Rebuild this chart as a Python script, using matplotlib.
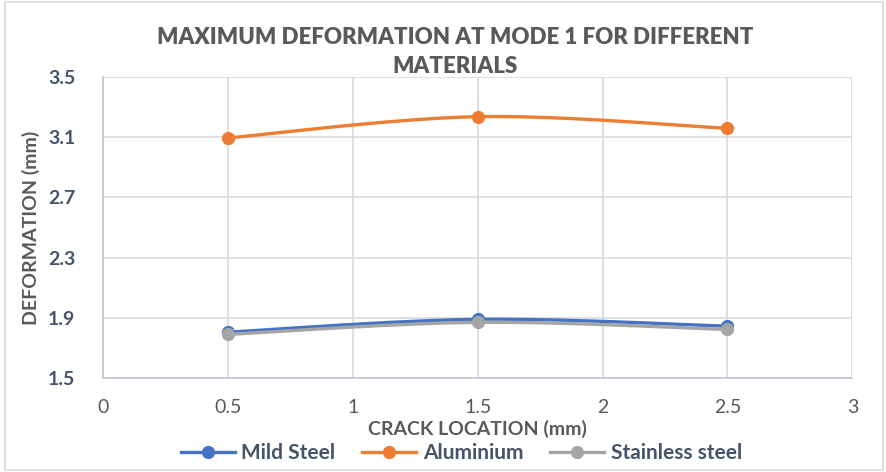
import numpy as np
import matplotlib
matplotlib.use("Agg")
import matplotlib.pyplot as plt
from matplotlib.lines import Line2D
from matplotlib.patches import Rectangle

plt.rcParams['font.family'] = ['Lato', 'DejaVu Sans']

# Crack location (mm) and max deformation (mm) per material
crack_location = [0.5, 1.5, 2.5]
mild_steel = [1.805, 1.89, 1.845]
aluminium = [3.095, 3.236, 3.159]
stainless_steel = [1.79, 1.87, 1.823]

series = [
    ("Mild Steel", mild_steel, "#4472C4"),
    ("Aluminium", aluminium, "#ED7D31"),
    ("Stainless steel", stainless_steel, "#A5A5A5"),
]


def smooth_curve(x, y, n=40):
    # Catmull-Rom style smoothing between consecutive points
    x = np.asarray(x, float)
    y = np.asarray(y, float)
    px = np.concatenate([[x[0]], x, [x[-1]]])
    py = np.concatenate([[y[0]], y, [y[-1]]])
    xs, ys = [], []
    for i in range(1, len(px) - 2):
        p0 = np.array([px[i - 1], py[i - 1]])
        p1 = np.array([px[i], py[i]])
        p2 = np.array([px[i + 1], py[i + 1]])
        p3 = np.array([px[i + 2], py[i + 2]])
        c1 = p1 + (p2 - p0) / 6
        c2 = p2 - (p3 - p1) / 6
        t = np.linspace(0, 1, n)[:, None]
        pts = ((1 - t) ** 3) * p1 + 3 * ((1 - t) ** 2) * t * c1 + 3 * (1 - t) * t ** 2 * c2 + t ** 3 * p2
        xs.extend(pts[:, 0])
        ys.extend(pts[:, 1])
    return xs, ys


fig = plt.figure(figsize=(8.87, 4.72), dpi=100)
ax = fig.add_axes([0.116, 0.199, 0.845, 0.638])

for name, vals, col in series:
    sx, sy = smooth_curve(crack_location, vals)
    ax.plot(sx, sy, color=col, lw=2.4, zorder=3)
    ax.plot(crack_location, vals, "o", color=col, ms=8.5, zorder=4)

ax.set_xlim(0, 3)
ax.set_ylim(1.5, 3.5)
ax.set_xticks(np.arange(0, 3.01, 0.5))
ax.set_xticklabels(["0", "0.5", "1", "1.5", "2", "2.5", "3"])
ax.set_yticks(np.arange(1.5, 3.51, 0.4))
ax.set_yticklabels(["1.5", "1.9", "2.3", "2.7", "3.1", "3.5"])
ax.grid(True, color="#D9D9D9", lw=1.2)
ax.set_axisbelow(True)
for s in ["top", "right"]:
    ax.spines[s].set_visible(False)
for s in ["left", "bottom"]:
    ax.spines[s].set_color("#BFC6D4")
    ax.spines[s].set_linewidth(1.2)
ax.tick_params(length=0)
ax.tick_params(axis="x", pad=15, labelsize=14, labelcolor="#595959")
ax.tick_params(axis="y", pad=20, labelsize=14, labelcolor="#44546A")
for lab in ax.get_yticklabels():
    lab.set_fontweight("bold")

ax.set_xlabel("CRACK LOCATION (mm)", fontsize=14, fontweight="bold",
              color="#595959", labelpad=3)
ax.set_ylabel("DEFORMATION (mm)", fontsize=14, fontweight="bold",
              color="#595959", labelpad=6)

fig.text(0.513, 0.89, "MAXIMUM DEFORMATION AT MODE 1 FOR DIFFERENT\nMATERIALS",
         ha="center", va="center", fontsize=16, fontweight="heavy",
         color="#595959", linespacing=1.45)

handles = [Line2D([0], [0], color=c, lw=2.4, marker="o", ms=8.5) for _, _, c in series]
leg = fig.legend(handles, [n for n, _, _ in series], loc="center",
                 bbox_to_anchor=(0.52, 0.04), ncol=3, frameon=False,
                 fontsize=15, handlelength=2.6, columnspacing=1.3, handletextpad=0.3)
for t in leg.get_texts():
    t.set_color("#44546A")
    t.set_fontweight("bold")

fig.patches.append(Rectangle((0.006, 0.004), 0.99, 0.992, transform=fig.transFigure,
                             fill=False, edgecolor="#D9D9D9", lw=1.2))

fig.savefig("out.png", dpi=100)
